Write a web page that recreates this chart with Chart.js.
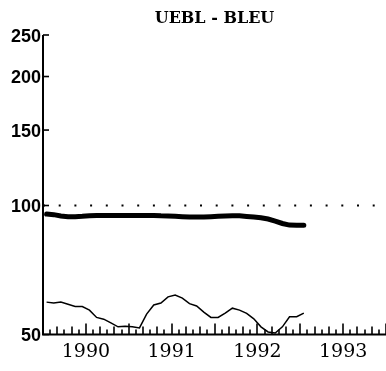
<!DOCTYPE html>
<html>
<head>
<meta charset="utf-8">
<script src="https://cdn.jsdelivr.net/npm/chart.js@4.4.1/dist/chart.umd.min.js"></script>
<style>
  html, body { margin: 0; padding: 0; background: #fff; }
  #wrap { width: 386px; height: 371px; }
</style>
</head>
<body>
<div id="wrap"><canvas id="chart" width="386" height="371"></canvas></div>
<script>
// monthly series, Jan 1990 .. Jan 1993
const uebl = [
    95.5, 95.2, 94.5, 94.2, 94.2, 94.4, 94.7, 94.8, 94.8, 94.8, 94.8, 94.8,
    94.8, 94.8, 94.8, 94.8, 94.6, 94.5, 94.4, 94.2, 94.0, 94.0, 94.0, 94.2,
    94.4, 94.5, 94.6, 94.6, 94.3, 94.0, 93.6, 93.0, 92.0, 90.8, 90.0, 89.9,
    89.9
];
const bleu = [
    59.5, 59.2, 59.5, 58.8, 58.1, 58.1, 57.0, 54.8, 54.3, 53.2, 52.1, 52.3,
    52.1, 51.8, 55.8, 58.6, 59.2, 61.2, 61.8, 60.8, 59.0, 58.3, 56.4, 54.8,
    54.8, 56.1, 57.6, 57.0, 56.0, 54.4, 52.1, 50.7, 50.4, 52.1, 55.0, 55.0,
    56.1
];
const refLevel = 100;
const yTicks = [50, 100, 150, 200, 250];
const years = ['1990', '1991', '1992', '1993'];
const totalMonths = 48;

const toPoints = arr => arr.map((v, i) => ({ x: i + 0.5, y: v }));

// axis lines and inward tick marks
const axisPlugin = {
    id: 'axisPlugin',
    afterDraw(chart) {
        const ctx = chart.ctx;
        const area = chart.chartArea;
        const xs = chart.scales.x;
        const ys = chart.scales.y;
        ctx.save();
        ctx.strokeStyle = '#000';
        ctx.lineWidth = 2;
        ctx.beginPath();
        ctx.moveTo(area.left, ys.getPixelForValue(250));
        ctx.lineTo(area.left, area.bottom);
        ctx.lineTo(area.right, area.bottom);
        ctx.stroke();

        ctx.lineWidth = 1.6;
        yTicks.forEach(v => {
            const y = ys.getPixelForValue(v);
            ctx.beginPath();
            ctx.moveTo(area.left, y);
            ctx.lineTo(area.left + 6, y);
            ctx.stroke();
        });

        ctx.lineWidth = 1.6;
        for (let m = 1; m <= totalMonths; m++) {
            const x = Math.round(xs.getPixelForValue(m));
            let len = m % 2 === 0 ? 8 : 5;
            if (m % 6 === 0) len = 11;
            ctx.beginPath();
            ctx.moveTo(x, area.bottom);
            ctx.lineTo(x, area.bottom - len);
            ctx.stroke();
        }
        ctx.restore();
    }
};

const ctx = document.getElementById('chart').getContext('2d');
new Chart(ctx, {
    type: 'line',
    data: {
        datasets: [{
            data: [{ x: 0, y: refLevel }, { x: totalMonths, y: refLevel }],
            borderColor: '#000',
            borderWidth: 2,
            borderDash: [2, 13.7],
            pointRadius: 0
        }, {
            data: toPoints(uebl),
            borderColor: '#000',
            borderWidth: 5,
            borderCapStyle: 'round',
            pointRadius: 0,
            tension: 0
        }, {
            data: toPoints(bleu),
            borderColor: '#000',
            borderWidth: 1.5,
            pointRadius: 0,
            tension: 0
        }]
    },
    options: {
        responsive: false,
        animation: false,
        devicePixelRatio: 1,
        layout: { padding: 0 },
        scales: {
            x: {
                type: 'linear',
                min: 0,
                max: totalMonths,
                grid: { display: false, drawTicks: false },
                border: { display: false },
                afterBuildTicks: scale => {
                    scale.ticks = years.map((y, i) => ({ value: i * 12 + 6 }));
                },
                afterFit: scale => { scale.height = 36.5; },
                ticks: {
                    autoSkip: false,
                    maxRotation: 0,
                    padding: 6,
                    color: '#000',
                    font: { family: 'DejaVu Serif', size: 19 },
                    callback: value => years[(value - 6) / 12]
                }
            },
            y: {
                type: 'logarithmic',
                min: 50,
                max: 250,
                grid: { display: false, drawTicks: false },
                border: { display: false },
                afterBuildTicks: scale => {
                    scale.ticks = yTicks.map(v => ({ value: v }));
                },
                afterFit: scale => { scale.width = 43; },
                ticks: {
                    padding: 2,
                    labelOffset: 2,
                    color: '#000',
                    font: { family: 'Liberation Sans', size: 18, weight: 'bold' },
                    callback: value => String(value)
                }
            }
        },
        plugins: {
            legend: { display: false },
            tooltip: { enabled: false },
            title: {
                display: true,
                text: 'UEBL - BLEU',
                fullSize: false,
                color: '#000',
                font: { family: 'DejaVu Serif', size: 16, weight: 'bold' },
                padding: { top: 9, bottom: 6.8 }
            }
        }
    },
    plugins: [axisPlugin]
});
</script>
</body>
</html>
